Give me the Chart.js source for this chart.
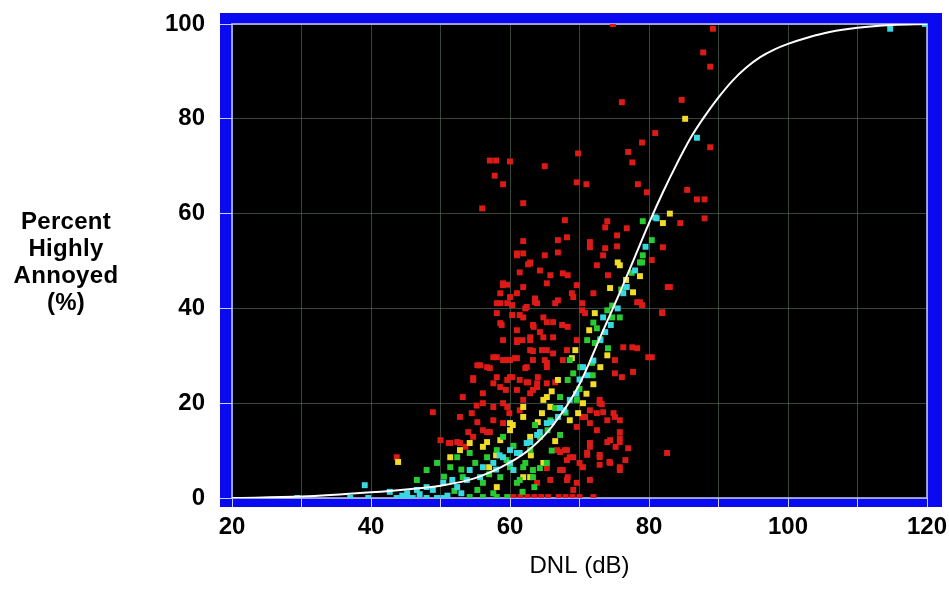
<!DOCTYPE html>
<html lang="en">
<head>
  <meta charset="UTF-8">
  <title>Percent Highly Annoyed vs DNL</title>
  <script src="https://cdn.jsdelivr.net/npm/chart.js"></script>
  <style>
    html, body { margin: 0; padding: 0; background: #fff; }
    .wrap { position: relative; width: 949px; height: 589px; }
    .y-title {
      position: absolute; left: 2px; top: 207px; width: 128px;
      text-align: center; color: #000;
      font: bold 24px "Liberation Sans", Arial, sans-serif; line-height: 27px;
      letter-spacing: 0.3px;
    }
  </style>
</head>
<body>
  <div class="wrap">
    <canvas id="chart" width="949" height="589"></canvas>
    <div class="y-title">Percent<br>Highly<br>Annoyed<br>(%)</div>
  </div>

  <script>
    // fitted curve
    const curveX = [20, 30, 40, 45, 50, 55, 60, 63, 66, 70, 73, 76, 78, 80, 82, 84, 86, 88, 90, 92, 94, 96, 98, 100, 103, 106, 110, 115, 120];
    const curveY = [0, 0.3, 1.2, 1.8, 2.6, 4.2, 7.5, 10.5, 15, 24, 34, 44, 51, 58, 64.5, 70.5, 76, 80.5, 84.5, 88, 90.8, 93, 94.6, 95.8, 97.2, 98.3, 99.2, 99.8, 100];

    // survey points [DNL, %HA] by colour group
    const redPoints = [
      [74.8,100],[89.2,99],[87.8,94],[88.8,91],[76.1,83.5],[84.7,84],[80.9,77],[79,75],[77,73],[77.6,70.8],[88.8,74],
      [57.1,71.2],[58,71.2],[60,71],[65,70],[69.8,72.7],[57.8,68],[59,66.2],[69.6,66.6],[71,66.2],[78.4,66.2],[79.7,64.5],
      [85.5,65],[86.9,63],[88,63],[56,61.1],[61.9,62.2],[88,59],[84.5,58],[67.9,58.6],[74,58.4],[73.7,57.1],[76.8,56.9],
      [61.9,54.2],[66.9,54.4],[71.5,54],[75.4,55.4],[68.2,55],[66.9,51.8],[71.5,52.9],[73.7,52.7],[75.4,53.1],[82,52.9],
      [61.9,51.6],[62.9,49.7],[65,51.2],[61,51.2],[73.4,51.2],[72.5,49.1],[80.4,50.2],
      [62.6,49.3],[61.4,47.6],[65.8,47],[67.6,47.4],[69.6,44.9],[59,44.9],[58.6,43.2],[61,43.2],[63.6,42.1],[58.1,41.1],
      [59.6,41.1],[62.2,40],[63.9,41.1],[66.5,41.1],[69.1,42.4],[70.4,41.1],[70.8,39],[72,43.2],[74.1,47],[78.7,41.3],
      [83,44.5],[81.9,39],[60.3,38.6],[58.8,36.5],[65.3,37.1],[67.5,36.5],[64.3,35],[66.2,33.9],[61,33.3],[62.9,33.3],
      [69.6,33.3],[63.3,31],[65.3,31.2],[68.2,31.2],[76.3,31.8],[78.3,31.6],[57.6,29.7],[55.3,28],[56.7,27.6],[59.6,29.1],
      [60.7,29.5],[62.2,27.4],[65,29.1],[65.3,27.6],[67.6,29.1],[75.1,29.1],[79.9,29.7],[54.7,25.3],[57.6,24.2],[60,25.5],
      [62.4,24.4],[64,25.5],[66.5,24.4],[75.1,26.3],[76.1,25.5],[77.7,26.6],
      [48.9,18.1],[52.8,17.1],[54.5,17.9],[50,12.2],[51.4,11.6],[52.8,11.6],[54.7,12.9],[56.1,14.3],[57.1,13.9],[59,15.8],
      [57.6,19.2],[59,20],[61.4,18.5],[56.1,20],[54.7,24.9],[58.1,25.5],[59.6,24.9],[61.4,24.9],[55.7,28],[57.1,27.4],
      [60,29.1],[61,29.5],[59,29.1],[62.4,27.6],[58.1,29.7],[59,33.3],[61,32.9],[62.9,33.9],[64.8,33.9],[62.9,31.2],
      [58.6,36.9],[61,35.4],[63.3,36.5],[61.9,38.1],[58.6,41.1],[58.1,39],[60,42.4],[62.4,40.3],[59,45.3],[61.9,44.5],
      [62.9,49.5],[61,51.6],[64.3,48],[65.3,45.3],[64.8,38.1],[65.3,28.5],[63.9,24.2],[62.9,22.1],[63.9,23.4],[61,22.8],
      [58.6,23.4],[56.1,22.1],[53.2,21.3],[43.7,8.6],
      [66.9,41.7],[68.3,47],[68.9,43.2],[70.4,39.6],[63.6,41.3],[61.4,38.6],[60.3,40.7],[59.6,45],[66.2,37.1],[68.3,36.1],
      [63.4,36.1],[61.8,33.3],[64.6,31.2],[63.3,29.1],[66.2,30.5],[59.4,29.1],[60.3,25.5],[62.6,24.4],[65.3,24.2],[63.3,22.8],
      [61.9,20.7],[59.4,22.8],[59.6,19.2],[72.9,20.7],[72.5,17.9],[73.2,19.8],[70.8,17.1],[71.5,15.8],[69.6,15],[75.1,17.1],
      [75.8,13.9],[74,11.8],[75.8,11.8],[77,10.5],[71.5,11.6],[71.1,9.5],[72.9,8.6],[74.3,7.6],[75.8,6.5],[76.6,8],
      [70,7.4],[67.9,10.1],[68.6,8.6],[66.8,10.1],[67.2,5.9],[65.3,6.3],[68.3,4.4],[65.8,3.8],[63.9,3.2],[69.6,3.2],
      [71.5,3.8],[82.6,9.5],[80.4,29.7],[81.9,39.2],[82.7,44.5],[77.6,31.8],[78.3,41.3],[79,40.7],
      [70.5,17.1],[71.5,18.5],[72.9,20],[73.4,18.1],[74,16.4],[74.9,17.9],[75.8,16.4],[72.5,14.3],[74.4,12.2],[75.8,12.6],
      [75.2,10.8],[71.5,10.8],[71.1,9.1],[72.9,9.1],[70.5,6.5],[72.9,7],[74.4,7.4],[75.8,5.9],[68.2,10.1],[67.2,9.7],
      [68.2,8],[69.1,8.6],[67.6,5.9],[68.2,3.8],[69.1,1.7],
      [55.3,16],[56.7,13.9],[57.6,16.4],[59.9,17.9],[51.2,11.6],[52.4,11.8],[54,13.9],[53.6,10.8],[55.2,19.5],
      [60.5,0.2],[61.5,0.2],[62.5,0.2],[63.5,0.2],[64.5,0.2],[65.5,0.2],[67,0.2],[68,0.2],[69,0.2],[70,0.2],[72,0.2]
    ];
    const yellowPoints = [
      [85.2,80],[83,60],[82,58],[75.5,49.7],[75.8,49.1],[78.7,46.8],[74.4,44.3],[77.7,43.4],[72.2,39],[71.4,35.4],
      [69.4,31.2],[74,30.1],[73,27.6],[66.9,24.9],[68.9,29.5],[64.8,20.7],[65.8,19.2],[64.6,17.9],[69.8,17.9],[68.6,16.4],
      [60.4,15.4],[61.9,17.1],[60,14.3],[62.9,4.4],[64.8,7.4],[51.4,8.6],[52.8,10.1],[56.1,10.8],[58.6,12.2],[60,15.8],
      [62.9,12.9],[61.9,19.2],[65.3,21.3],[58.1,2.3],[61.9,4.4],[54.2,11.6],[56.7,11.8],[43.9,7.6],[66,22.5],[64,16],
      [58,9],[63,9],[57,6.5],[66.5,12],[70.5,20],[72,24],[71,22],[76.7,46]
    ];
    const greenPoints = [
      [79.1,58.4],[80.4,54.4],[79.1,51.2],[79,49.7],[78.7,49.7],[74,39.6],[74.7,38.1],[75.8,38.1],[72.5,35.8],[71.1,33.3],
      [72.2,32.7],[74.1,31.6],[68.6,29.1],[70.1,27.6],[71.8,28.5],[69.1,26.3],[68.3,24.9],[71.9,25.9],[74.7,40.6],[72,37],
      [67.2,21.3],[69.6,20.7],[65.8,16.4],[63.6,15.4],[65.4,14.3],[67.2,13.3],[62.2,7.4],[63.3,5.9],[61.4,3.8],[64.3,6.3],
      [63.5,2.3],[61.8,1.3],[46.6,3.8],[48,5.9],[49.5,7.4],[51.4,6.5],[52.4,8.6],[53.2,4.4],[54.2,9.5],[55,7.4],
      [56.1,3.2],[56.7,8.6],[58.1,10.1],[58.6,4.4],[59,12.9],[60,6.5],[61,3.2],[61.9,6.5],[62.9,10.1],[63.3,4.4],
      [64.3,12.9],[65.3,7.4],[55.3,1.7],[57.6,1],[54.2,0.2],[56.1,0.2],[58.1,0.2],[59.6,0.2],[52,1.5],[50.5,4.5],
      [53,6],[57,5],[59.5,8],[66,10],[68,18],[70,23],[73,33.5],[76,44],[77.5,47.5],[60.5,11],[66.5,19]
    ];
    const cyanPoints = [
      [114.7,99],[119.7,100],[86.9,76],[80.9,59.2],[81.1,59],[76.3,43.2],[76.8,44.5],[73.4,38.1],[73.7,35],[73,33.3],
      [70.5,27.6],[71.1,25.9],[68.6,20.7],[67.2,19],[66.9,17.1],[64.3,13.9],[62.9,11.8],[61.4,9.5],[60,7.4],[60.5,5.9],
      [29.4,0],[37,0],[39.6,0],[39.1,2.7],[43.7,0],[45.2,0],[46,0],[48,0],[49.5,0],[50.4,0],
      [42.7,1.3],[45.2,1],[46.6,1.7],[48,2.3],[48.9,1.7],[50.4,3.2],[51.7,3.8],[52.4,2.3],[53.8,3.8],[54.2,5.9],
      [55.7,4.4],[56.1,6.5],[57.6,7.4],[59,8.6],[60,10.1],[61,9.5],[62.4,11.6],[63.9,13.3],[65.3,15.8],[44.5,0.5],
      [47,0.8],[51,0.5],[53,1],[58,6],[66,16],[69.5,22],[72,29],[74.5,36.5],[75.5,40],[78,48],
      [79.5,53],[70,25],[67.8,18.5],[58.5,9]
    ];

    const xTicks = [20, 40, 60, 80, 100, 120];

    const toXY = pts => pts.map(p => ({ x: p[0], y: p[1] }));
    const dots = (pts, color, order) => ({
      data: toXY(pts),
      backgroundColor: color,
      borderWidth: 0,
      pointStyle: 'rect',
      pointRadius: 4.2,
      order: order
    });

    // blue frame + black plot area
    const framePlugin = {
      id: 'frame',
      beforeDraw(chart) {
        const { ctx, chartArea: a } = chart;
        ctx.save();
        ctx.fillStyle = '#0a0af0';
        ctx.fillRect(a.left - 12, a.top - 11, a.width + 27, a.height + 20);
        ctx.fillStyle = '#000';
        ctx.fillRect(a.left, a.top, a.width, a.height);
        ctx.restore();
      },
      beforeDatasetsDraw(chart) {
        const { ctx, chartArea: a } = chart;
        ctx.save();
        ctx.strokeStyle = '#c4c8ff';
        ctx.lineWidth = 1.5;
        ctx.strokeRect(a.left, a.top, a.width, a.height);
        ctx.restore();
      }
    };

    Chart.defaults.font.family = '"Liberation Sans", Arial, sans-serif';
    Chart.defaults.color = '#000';

    const tickFont = { size: 24, weight: 'bold' };

    new Chart(document.getElementById('chart'), {
      type: 'scatter',
      data: {
        datasets: [
          {
            type: 'line',
            data: curveX.map((x, i) => ({ x: x, y: curveY[i] })),
            borderColor: '#ffffff',
            borderWidth: 2,
            pointRadius: 0,
            cubicInterpolationMode: 'monotone',
            fill: false,
            order: 0
          },
          dots(cyanPoints, '#38d8e0', 1),
          dots(greenPoints, '#28cc30', 2),
          dots(yellowPoints, '#f2dc28', 3),
          dots(redPoints, '#dc1a16', 4)
        ]
      },
      options: {
        responsive: false,
        animation: false,
        layout: { padding: { top: 24, right: 22, left: 0, bottom: 0 } },
        plugins: { legend: { display: false }, tooltip: { enabled: false } },
        scales: {
          x: {
            type: 'linear', min: 20, max: 120,
            afterFit: s => { s.height = 91; s.paddingLeft = 0; s.paddingRight = 0; },
            border: { display: false },
            grid: { color: 'rgba(95,125,105,0.55)', lineWidth: 1, tickLength: 9, tickColor: '#c8d0ff' },
            ticks: {
              stepSize: 10, autoSkip: false, maxRotation: 0, padding: 6, font: tickFont,
              callback: v => xTicks.includes(v) ? v : ''
            },
            title: { display: true, text: 'DNL (dB)', font: { size: 24 }, padding: { top: 0, bottom: 8 } }
          },
          y: {
            min: 0, max: 100,
            afterFit: s => { s.width = 232; s.paddingTop = 0; s.paddingBottom = 0; },
            border: { display: false },
            grid: { color: 'rgba(95,125,105,0.55)', lineWidth: 1, tickLength: 12, tickColor: '#c8d0ff' },
            ticks: { stepSize: 20, padding: 15, font: tickFont }
          }
        }
      },
      plugins: [framePlugin]
    });
  </script>
</body>
</html>
